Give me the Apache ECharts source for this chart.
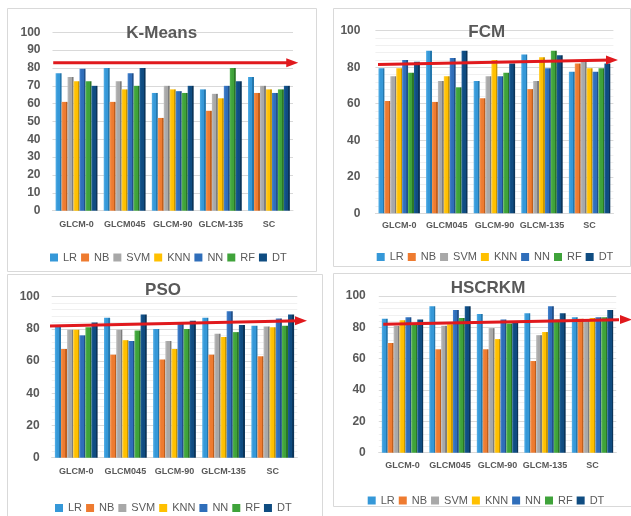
<!DOCTYPE html>
<html>
<head>
<meta charset="utf-8">
<script src="https://cdn.jsdelivr.net/npm/echarts@6/dist/echarts.min.js"></script>
<style>
  html, body { margin: 0; padding: 0; background: #ffffff; }
  #chart { width: 631px; height: 516px; }
</style>
</head>
<body>
<div id="chart"></div>
<script>
// Feature sets on the x axis, classifiers as the series
const categories = ['GLCM-0', 'GLCM045', 'GLCM-90', 'GLCM-135', 'SC'];
const classifiers = ['LR', 'NB', 'SVM', 'KNN', 'NN', 'RF', 'DT'];

// Accuracy (%) per classifier (rows, same order as classifiers) and feature set (columns)
const kmeansScores = [
  [77, 80, 66, 68, 75],
  [61, 61, 52, 56, 66],
  [75, 72.5, 70, 65.5, 70],
  [72.5, 68, 68, 63, 68],
  [79.5, 77, 67, 70, 66],
  [72.5, 70, 66, 80, 68],
  [70, 80, 70, 72.5, 70]
];
const fcmScores = [
  [79.5, 89, 72.5, 87, 77.5],
  [61.5, 61, 63, 68, 82],
  [75, 72.5, 75, 72.5, 84],
  [79.5, 75, 84, 85.5, 79.5],
  [84, 85, 75, 79.5, 77.5],
  [77, 69, 77, 89, 79.5],
  [83, 89, 82, 86.5, 82]
];
const psoScores = [
  [82.5, 87, 80, 87, 82],
  [67.5, 64, 61, 64, 63],
  [79.5, 79.5, 72.5, 77, 81.5],
  [79.5, 73, 67.5, 75, 81],
  [76, 72.5, 84, 91, 86.5],
  [81, 79, 80, 78, 82],
  [84, 89, 85, 82.5, 89]
];
const hscrkmScores = [
  [85.5, 93.5, 88.5, 89, 86.5],
  [70, 66, 66, 58.5, 85.5],
  [81, 81, 79.5, 75, 85],
  [84.5, 82, 72.5, 77, 86],
  [86.5, 91, 85, 93.5, 86.5],
  [81.5, 86, 82.5, 85, 86.5],
  [85, 93.5, 84, 89, 91]
];

// Reference level drawn as a red arrow across each panel: [start, end]
const kmeansTrend = [83, 83];
const fcmTrend = [81.5, 84];
const psoTrend = [81.8, 85];
const hscrkmTrend = [82, 85];

const FONT = '"Liberation Sans", Arial, sans-serif';
const TEXT = '#595959';

// front colour, highlight, side face
const palette = {
  LR:  ['#3598d8', '#52aee6', '#2477ad'],
  NB:  ['#ee7b30', '#f49552', '#c05e1c'],
  SVM: ['#a8a8a8', '#bdbdbd', '#7d7d7d'],
  KNN: ['#ffc000', '#ffcf3a', '#c99600'],
  NN:  ['#2f6eba', '#4684cf', '#21508a'],
  RF:  ['#3fa33a', '#57b651', '#2b7727'],
  DT:  ['#0f4c81', '#1d5f98', '#0a3459']
};

function barFill(name) {
  const c = palette[name];
  return {
    type: 'linear', x: 0, y: 0, x2: 1, y2: 0,
    colorStops: [
      { offset: 0, color: c[1] },
      { offset: 0.35, color: c[0] },
      { offset: 0.72, color: c[0] },
      { offset: 0.74, color: c[2] },
      { offset: 1, color: c[2] }
    ]
  };
}

const panels = [
  { title: 'K-Means', scores: kmeansScores, trend: kmeansTrend, interval: 10,
    grid: { left: 52.5, top: 32.3, width: 240.5, height: 178.4 },
    titlePos: [161.7, 33], legendPos: [50, 252], trendX: [0.003, 0.997],
    xMargin: 9, yMargin: 12, box: [7, 8, 309, 263] },
  { title: 'FCM', scores: fcmScores, trend: fcmTrend, interval: 20,
    grid: { left: 375.4, top: 30.7, width: 238, height: 182.6 },
    titlePos: [486.7, 32.3], legendPos: [376.7, 251.5], trendX: [0.011, 0.994],
    xMargin: 8, yMargin: 15, box: [333, 8, 297, 258] },
  { title: 'PSO', scores: psoScores, trend: psoTrend, interval: 20,
    grid: { left: 51.7, top: 296.7, width: 245.6, height: 161 },
    titlePos: [163, 290], legendPos: [55, 502.5], trendX: [-0.007, 1.015],
    xMargin: 9.5, yMargin: 12, box: [7, 274, 315, 250] },
  { title: 'HSCRKM', scores: hscrkmScores, trend: hscrkmTrend, interval: 20,
    grid: { left: 378.75, top: 296, width: 237.5, height: 156.7 },
    titlePos: [488, 288.3], legendPos: [367.7, 495], trendX: [0.019, 1.041],
    xMargin: 8, yMargin: 13, box: [333, 273, 300, 233] }
];

const option = {
  backgroundColor: '#ffffff',
  animation: false,
  textStyle: { fontFamily: FONT },
  grid: [], xAxis: [], yAxis: [], legend: [], series: [], graphic: []
};

panels.forEach((p, i) => {
  option.grid.push(p.grid);

  option.xAxis.push({
    gridIndex: i, type: 'category', data: categories,
    axisTick: { show: false },
    axisLine: { lineStyle: { color: '#d9d9d9' } },
    axisLabel: { interval: 0, color: TEXT, fontSize: 9, fontWeight: 'bold', fontFamily: FONT, margin: p.xMargin }
  });
  // helper axis spanning the plot width, used to place the arrow
  option.xAxis.push({ gridIndex: i, type: 'value', min: 0, max: 1, show: false });

  option.yAxis.push({
    gridIndex: i, type: 'value', min: 0, max: 100, interval: p.interval,
    axisLine: { show: false }, axisTick: { show: false },
    axisLabel: { color: TEXT, fontSize: 12, fontWeight: 'bold', fontFamily: FONT, margin: p.yMargin },
    splitLine: { lineStyle: { color: '#d9d9d9', width: 1 } },
    minorTick: { show: false },
    minorSplitLine: { show: p.interval === 20, lineStyle: { color: '#f0f0f0' } }
  });

  option.legend.push({
    left: p.legendPos[0], top: p.legendPos[1], padding: 0,
    icon: 'rect', itemWidth: 8, itemHeight: 8, itemGap: 4,
    selectedMode: false,
    textStyle: { color: TEXT, fontSize: 11, fontFamily: FONT },
    data: classifiers.map(c => ({ name: c, itemStyle: { color: palette[c][0] } }))
  });

  classifiers.forEach((c, k) => {
    option.series.push({
      name: c, type: 'bar',
      xAxisIndex: 2 * i, yAxisIndex: i,
      data: p.scores[k],
      barGap: '0%', barCategoryGap: '13%',
      itemStyle: { color: barFill(c) },
      z: 2
    });
  });

  option.series.push({
    name: p.title + ' level', type: 'line',
    xAxisIndex: 2 * i + 1, yAxisIndex: i,
    clip: false, silent: true, z: 5,
    symbol: 'none',
    lineStyle: { color: '#e0191d', width: 3 },
    itemStyle: { color: '#e0191d' },
    data: [
      [p.trendX[0], p.trend[0]],
      { value: [p.trendX[1], p.trend[1]], symbol: 'triangle', symbolRotate: -90, symbolSize: [9, 12] }
    ]
  });

  option.graphic.push({
    type: 'rect', z: -1, silent: true,
    shape: { x: p.box[0] + 0.5, y: p.box[1] + 0.5, width: p.box[2], height: p.box[3] },
    style: { fill: 'none', stroke: '#d9d9d9', lineWidth: 1 }
  });
  option.graphic.push({
    type: 'text', z: 10, silent: true,
    x: p.titlePos[0], y: p.titlePos[1],
    style: { text: p.title, fill: TEXT, font: 'bold 17px ' + FONT, align: 'center', verticalAlign: 'middle' }
  });
});

const chart = echarts.init(document.getElementById('chart'), null, { renderer: 'canvas' });
chart.setOption(option);
</script>
</body>
</html>
